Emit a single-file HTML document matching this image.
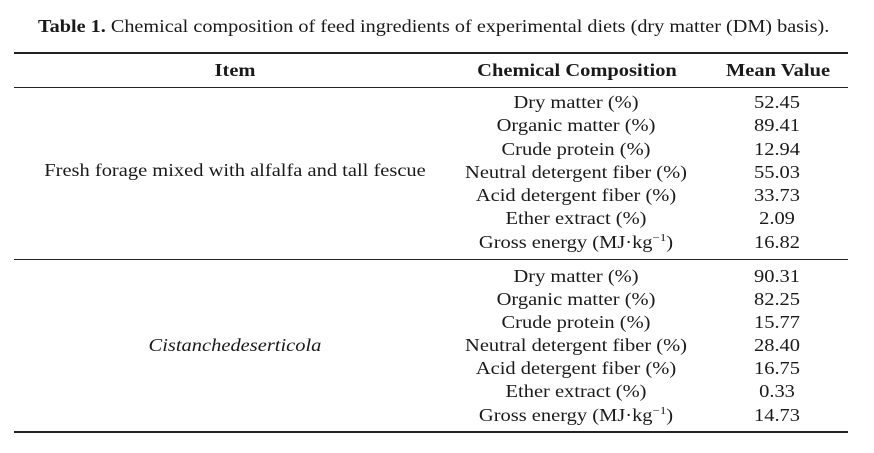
<!DOCTYPE html>
<html><head><style>
body{margin:0;width:874px;height:453px;background:#fff;position:relative;font-family:"Liberation Serif",serif;color:#1a1a1a;overflow:hidden}
.t{position:absolute;white-space:nowrap;font-size:17.5px;line-height:20px;transform:translateX(-50%) scaleX(1.17)}
.l{position:absolute;left:14px;width:834px;background:#222}
sup{font-size:11px;line-height:0;vertical-align:7px}
</style></head><body>
<div style="position:absolute;left:38px;top:16px;font-size:17.5px;white-space:nowrap;transform-origin:0 0;transform:scaleX(1.155)"><b>Table 1.</b> Chemical composition of feed ingredients of experimental diets (dry matter (DM) basis).</div>
<div class="l" style="top:52px;height:2px"></div>
<div class="l" style="top:87px;height:1px"></div>
<div class="l" style="top:259px;height:1px"></div>
<div class="l" style="top:431px;height:2px"></div>
<div class="t" style="left:235px;top:60px;font-weight:bold">Item</div>
<div class="t" style="left:577px;top:60px;font-weight:bold">Chemical Composition</div>
<div class="t" style="left:778px;top:60px;font-weight:bold">Mean Value</div>
<div class="t" style="left:235px;top:160px">Fresh forage mixed with alfalfa and tall fescue</div>
<div class="t" style="left:235px;top:335px;font-style:italic">Cistanchedeserticola</div>

<div class="t" style="left:576px;top:92px">Dry matter (%)</div><div class="t" style="left:777px;top:92px">52.45</div>
<div class="t" style="left:576px;top:115px">Organic matter (%)</div><div class="t" style="left:777px;top:115px">89.41</div>
<div class="t" style="left:576px;top:139px">Crude protein (%)</div><div class="t" style="left:777px;top:139px">12.94</div>
<div class="t" style="left:576px;top:162px">Neutral detergent fiber (%)</div><div class="t" style="left:777px;top:162px">55.03</div>
<div class="t" style="left:576px;top:185px">Acid detergent fiber (%)</div><div class="t" style="left:777px;top:185px">33.73</div>
<div class="t" style="left:576px;top:208px">Ether extract (%)</div><div class="t" style="left:777px;top:208px">2.09</div>
<div class="t" style="left:576px;top:232px">Gross energy (MJ·kg<sup>−1</sup>)</div><div class="t" style="left:777px;top:232px">16.82</div>

<div class="t" style="left:576px;top:266px">Dry matter (%)</div><div class="t" style="left:777px;top:266px">90.31</div>
<div class="t" style="left:576px;top:289px">Organic matter (%)</div><div class="t" style="left:777px;top:289px">82.25</div>
<div class="t" style="left:576px;top:312px">Crude protein (%)</div><div class="t" style="left:777px;top:312px">15.77</div>
<div class="t" style="left:576px;top:335px">Neutral detergent fiber (%)</div><div class="t" style="left:777px;top:335px">28.40</div>
<div class="t" style="left:576px;top:358px">Acid detergent fiber (%)</div><div class="t" style="left:777px;top:358px">16.75</div>
<div class="t" style="left:576px;top:381px">Ether extract (%)</div><div class="t" style="left:777px;top:381px">0.33</div>
<div class="t" style="left:576px;top:405px">Gross energy (MJ·kg<sup>−1</sup>)</div><div class="t" style="left:777px;top:405px">14.73</div>
</body></html>
